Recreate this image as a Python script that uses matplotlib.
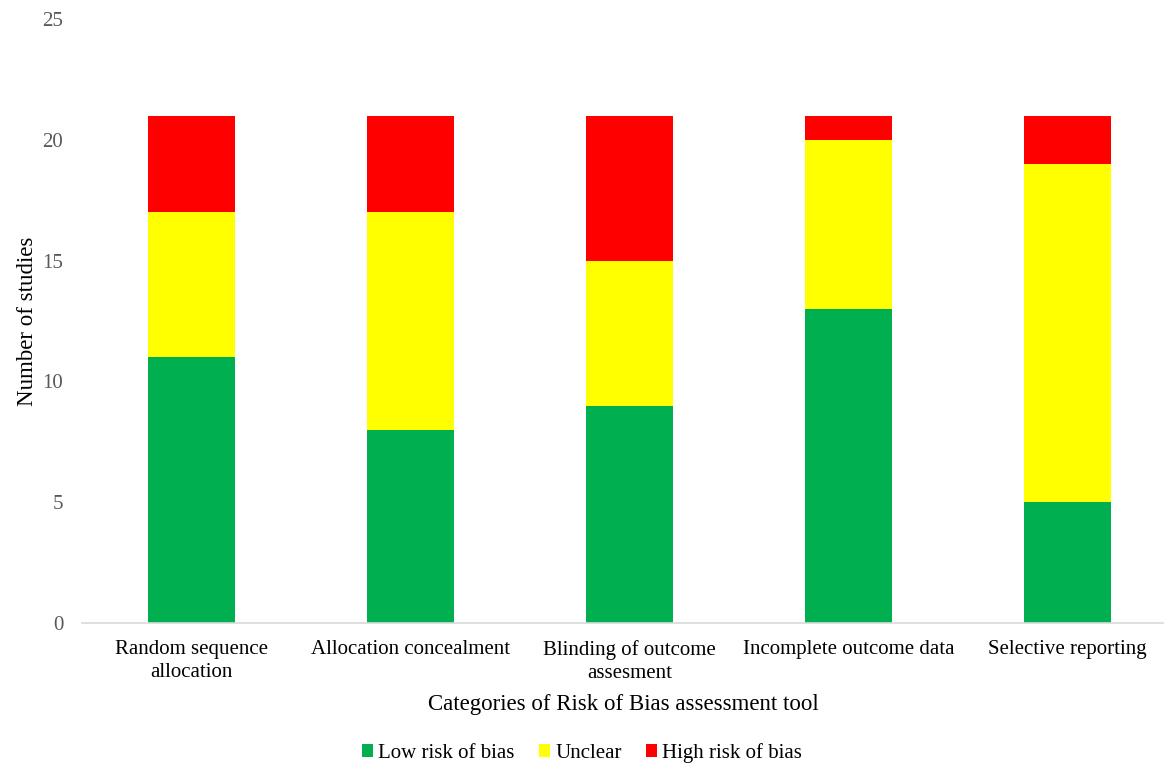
import matplotlib
matplotlib.use("Agg")
import matplotlib.pyplot as plt
import numpy as np

plt.rcParams['font.family'] = ['Liberation Serif', 'DejaVu Serif']

categories = ["Random sequence\nallocation", "Allocation concealment",
              "Blinding of outcome\nassesment", "Incomplete outcome data",
              "Selective reporting"]
low_risk = [11, 8, 9, 13, 5]
unclear = [6, 9, 6, 7, 14]
high_risk = [4, 4, 6, 1, 2]

fig = plt.figure(figsize=(11.64, 7.68), dpi=100)
ax = fig.add_axes([82 / 1164, 1 - 623 / 768, (1164 - 82) / 1164, (623 - 19) / 768])

x = np.arange(len(categories))
width = 0.397
low = np.array(low_risk)
mid = np.array(unclear)
ax.bar(x, low_risk, width, color='#00B050', label='Low risk of bias')
ax.bar(x, unclear, width, bottom=low, color='#FFFF00', label='Unclear')
ax.bar(x, high_risk, width, bottom=low + mid, color='#FF0000', label='High risk of bias')

ax.set_xlim(-0.5, 4.44)
ax.set_ylim(0, 25)
ax.set_yticks([0, 5, 10, 15, 20, 25])
ax.set_xticks(x)
ax.set_xticklabels(categories, fontsize=15, color='black', linespacing=1.3)
ax.tick_params(axis='y', labelsize=15, colors='#595959', length=0, pad=13.5)
ax.tick_params(axis='x', length=0, pad=12)

for s in ['top', 'right', 'left']:
    ax.spines[s].set_visible(False)
ax.spines['bottom'].set_color('#D9D9D9')
ax.spines['bottom'].set_linewidth(1.2)

ax.set_ylabel('Number of studies', fontsize=16.5, labelpad=3)
ax.set_xlabel('Categories of Risk of Bias assessment tool', fontsize=16.5, labelpad=8)

fig.legend(loc='center', bbox_to_anchor=(0.5, 1 - 753 / 768), ncol=3, frameon=False,
           fontsize=15, handlelength=0.55, handleheight=0.55, handletextpad=0.25,
           columnspacing=1.15)

fig.savefig('out.png', dpi=100)
